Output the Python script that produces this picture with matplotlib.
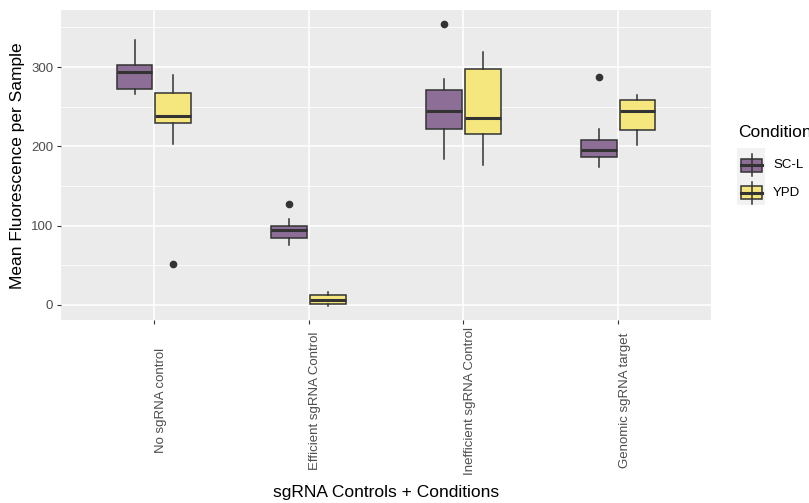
import matplotlib
matplotlib.use('Agg')
import matplotlib.pyplot as plt
from matplotlib.patches import Rectangle

plt.rcParams['font.family'] = ['Liberation Sans', 'DejaVu Sans']

# data
categories = ['No sgRNA control', 'Efficient sgRNA Control', 'Inefficient sgRNA Control', 'Genomic sgRNA target']
conditions = ['SC-L', 'YPD']
colors = ['#8D6E96', '#F5E67E']

# per condition, one value per category
whislo = {'SC-L': [266, 76, 184, 174], 'YPD': [203, -1, 177, 202]}
q1 = {'SC-L': [272, 84, 222, 186], 'YPD': [230, 1, 215, 221]}
med = {'SC-L': [294, 95, 244, 196], 'YPD': [238, 6, 236, 244]}
q3 = {'SC-L': [303, 100, 271, 208], 'YPD': [267, 12, 298, 259]}
whishi = {'SC-L': [334, 108, 285, 222], 'YPD': [290, 16, 319, 265]}
fliers = {'SC-L': [[], [127], [354], [287]], 'YPD': [[52], [], [], []]}

W, H = 809, 503
fig = plt.figure(figsize=(W / 100, H / 100), dpi=100)
ax = fig.add_axes([61 / W, 1 - 320 / H, 650 / W, 310 / H])
ax.set_facecolor('#EBEBEB')
for s in ax.spines.values():
    s.set_visible(False)

ax.set_yticks([0, 100, 200, 300])
ax.set_yticks([50, 150, 250, 350], minor=True)
ax.set_xticks(range(1, len(categories) + 1))
ax.grid(which='major', color='white', lw=1.1)
ax.grid(which='minor', axis='y', color='white', lw=0.55)
ax.set_axisbelow(True)
ax.tick_params(axis='both', which='major', length=2.6, width=0.8, color='#333333',
               labelcolor='#4D4D4D', labelsize=9.5, pad=3)
ax.tick_params(axis='y', which='minor', length=0)
ax.set_xticklabels([''] * len(categories))

offsets = [-0.125, 0.125]
for c, cond in enumerate(conditions):
    stats = []
    for i in range(len(categories)):
        stats.append({'med': med[cond][i], 'q1': q1[cond][i], 'q3': q3[cond][i],
                      'whislo': whislo[cond][i], 'whishi': whishi[cond][i],
                      'fliers': fliers[cond][i]})
    pos = [i + 1 + offsets[c] for i in range(len(categories))]
    ax.bxp(stats, positions=pos, widths=0.23, patch_artist=True, showcaps=False,
           boxprops=dict(facecolor=colors[c], edgecolor='#333333', lw=1.1),
           medianprops=dict(color='#333333', lw=2.2),
           whiskerprops=dict(color='#333333', lw=1.1),
           flierprops=dict(marker='o', markerfacecolor='#333333', markeredgecolor='#333333',
                           markersize=4.5), manage_ticks=False)

ax.set_xlim(0.4, 4.6)
ax.set_ylim(-19, 372)

for i, lab in enumerate(categories):
    ax.text(i + 1 + 0.005, -0.26, lab, transform=ax.get_xaxis_transform(), rotation=90,
            ha='left', va='center', fontsize=9.5, color='#4D4D4D')

fig.text(18 / W, 1 - 166 / H, 'Mean Fluorescence per Sample', rotation=90,
         ha='center', va='center', fontsize=12.5)
fig.text(386 / W, 1 - 493 / H, 'sgRNA Controls + Conditions', ha='center', va='center',
         fontsize=12.5)

# legend
fig.text(738 / W, 1 - 133 / H, 'Condition', ha='left', va='center', fontsize=12.5)
lax = fig.add_axes([737 / W, 1 - 205 / H, 28 / W, 57 / H])
lax.set_facecolor('#F2F2F2')
lax.set_xlim(0, 28)
lax.set_ylim(57, 0)
lax.set_xticks([])
lax.set_yticks([])
for s in lax.spines.values():
    s.set_visible(False)
for k, cond in enumerate(conditions):
    yc = 17 + 27.5 * k
    lax.plot([14.5, 14.5], [yc - 11, yc + 11], color='#333333', lw=1.1)
    lax.add_patch(Rectangle((4, yc - 6.5), 21, 13, facecolor=colors[k], edgecolor='#333333', lw=1.1))
    lax.plot([4, 25], [yc, yc], color='#333333', lw=2.2)
    fig.text(773 / W, 1 - (165 + 27.5 * k) / H, cond, ha='left', va='center', fontsize=9.5)

fig.savefig('out.png', dpi=100)
